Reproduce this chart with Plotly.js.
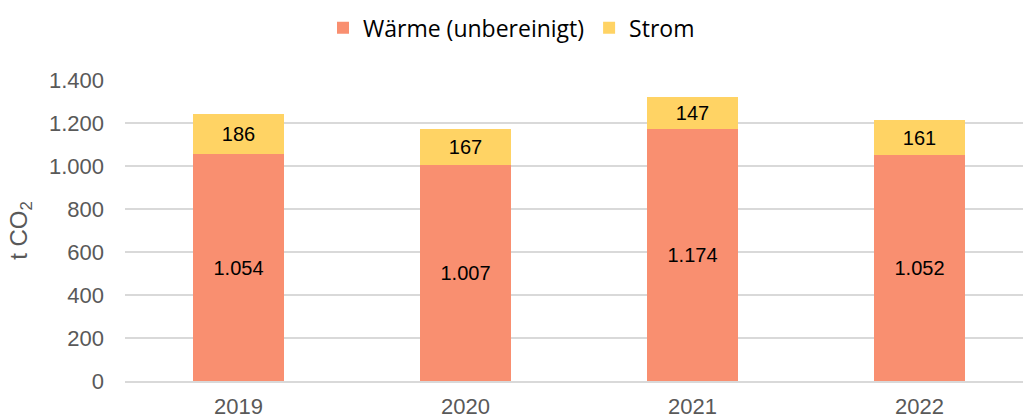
<!DOCTYPE html>
<html><head><meta charset="utf-8">
<script src="https://cdn.plot.ly/plotly-3.0.1.min.js"></script>
<style>html,body{margin:0;padding:0;background:#fff}#chart{width:1023px;height:418px}</style>
</head><body><div id="chart"></div>
<script>
const years = ['2019', '2020', '2021', '2022'];
const waerme = [1054, 1007, 1174, 1052];
const strom = [186, 167, 147, 161];
const yTicks = [0, 200, 400, 600, 800, 1000, 1200, 1400];

const labelFont = {family: 'Liberation Sans, Arial, sans-serif', size: 20, color: '#000000'};
const traces = [
  {type: 'bar', name: 'Wärme (unbereinigt)', x: years, y: waerme,
   marker: {color: '#F98F70'}, texttemplate: '%{y:,}', textposition: 'inside',
   insidetextanchor: 'middle', textfont: labelFont, hoverinfo: 'none'},
  {type: 'bar', name: 'Strom', x: years, y: strom,
   marker: {color: '#FFD364'}, texttemplate: '%{y:,}', textposition: 'inside',
   insidetextanchor: 'middle', textfont: labelFont, hoverinfo: 'none'}
];
const layout = {
  width: 1023, height: 418,
  barmode: 'stack', bargap: 0.6,
  separators: ',.',
  margin: {l: 125, r: 0, t: 80, b: 37},
  paper_bgcolor: '#fff', plot_bgcolor: '#fff',
  font: {family: 'Liberation Sans, Arial, sans-serif', color: '#595959'},
  showlegend: true,
  legend: {orientation: 'h', xref: 'container', yref: 'container', x: 0.5, xanchor: 'center',
           y: 0.985, yanchor: 'top', traceorder: 'normal',
           font: {family: 'Open Sans, sans-serif', size: 23, color: '#000'}, itemwidth: 30},
  xaxis: {type: 'category', range: [-0.5, 3.456], showgrid: false, showline: true, linecolor: '#D9D9D9', linewidth: 2,
          tickfont: {size: 22, color: '#595959'}, ticks: '', ticklabelstandoff: 5, fixedrange: true},
  yaxis: {range: [0, 1400], tickvals: yTicks, tickformat: ',d', showgrid: true, gridcolor: '#D9D9D9',
          gridwidth: 1.5, zeroline: false, showline: false, ticks: '', ticklabelstandoff: 20,
          tickfont: {size: 22, color: '#595959'},
          title: {text: 't CO<sub>2</sub>', font: {size: 24, color: '#595959'}, standoff: 14}}
};
Plotly.newPlot('chart', traces, layout, {displayModeBar: false, staticPlot: true});
</script></body></html>
